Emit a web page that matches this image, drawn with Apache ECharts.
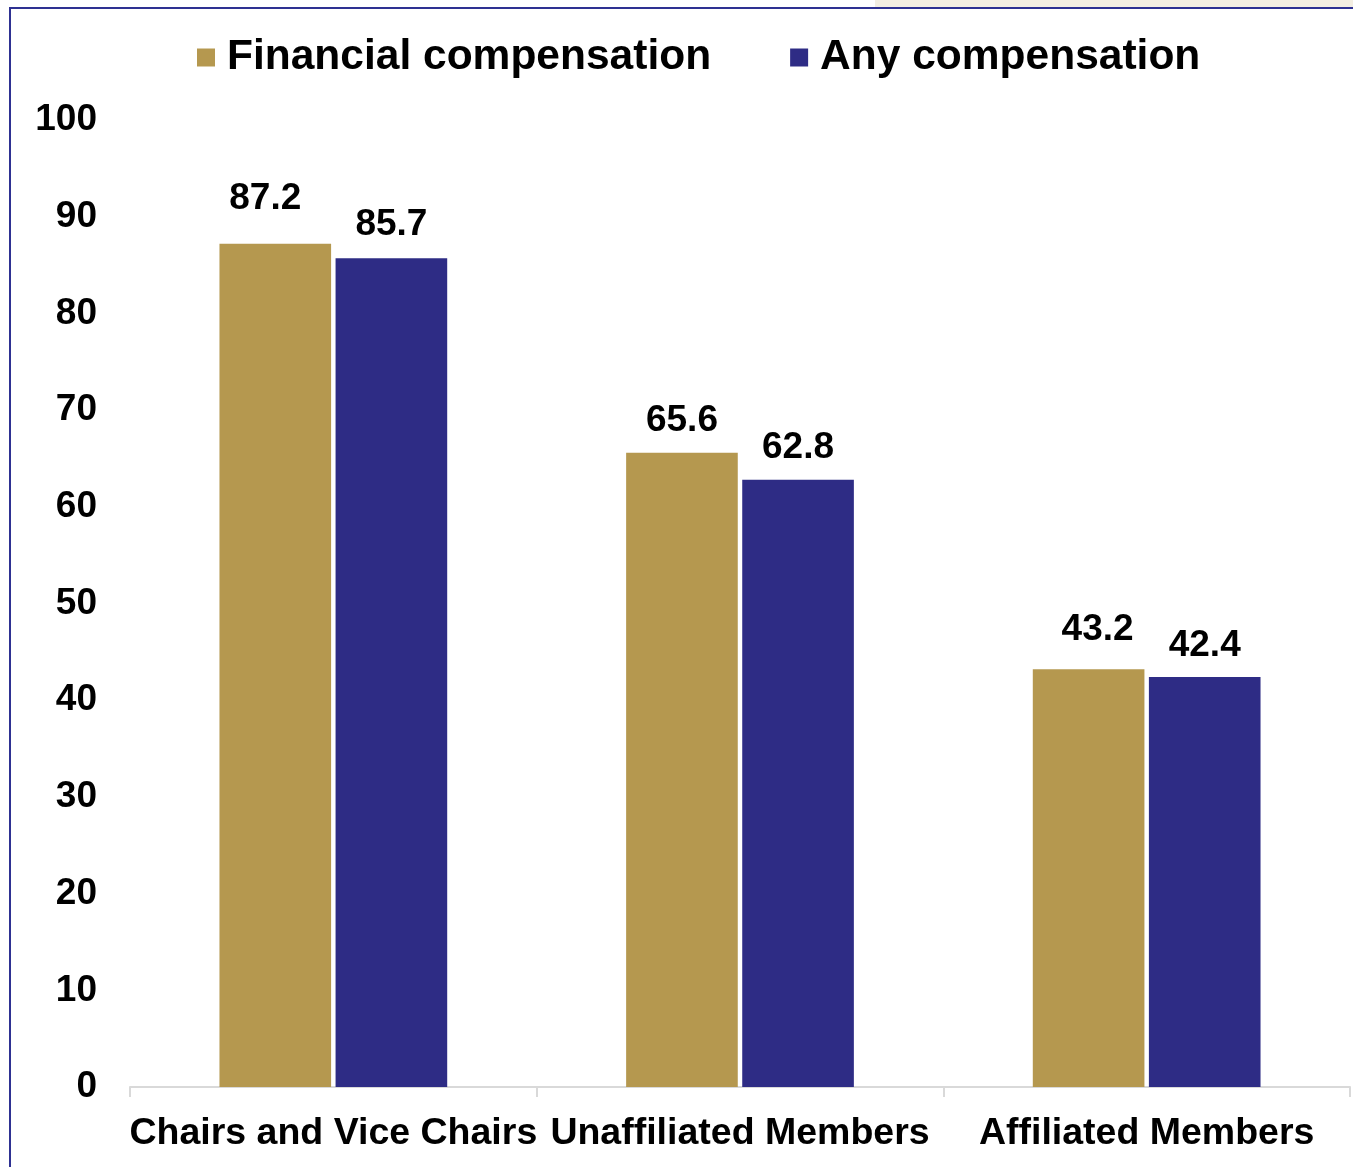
<!DOCTYPE html>
<html>
<head>
<meta charset="utf-8">
<script src="https://cdn.jsdelivr.net/npm/echarts@6/dist/echarts.min.js"></script>
<style>
  html, body { margin: 0; padding: 0; background: #fff; }
  #chart { width: 1353px; height: 1167px; }
</style>
</head>
<body>
<div id="chart"></div>
<script>
// groups on the x axis
const categories = ['Chairs and Vice Chairs', 'Unaffiliated Members', 'Affiliated Members']
const financial = [87.2, 65.6, 43.2]
const anyComp = [85.7, 62.8, 42.4]
const yTicks = [0, 10, 20, 30, 40, 50, 60, 70, 80, 90, 100]

// small nudges of the value labels, as placed in the original
const financialLabelShift = [[-10, -13], [0, 0], [9, -8]]
const anyLabelShift = [[0, -2], [0, 0], [0, 0]]

const gold = '#B5984F'
const navy = '#2E2C85'
const font = 'Liberation Sans, Arial, sans-serif'

function withLabels(values, shifts) {
  return values.map((v, i) => ({ value: v, label: { offset: shifts[i] } }))
}

const labelStyle = { show: true, position: 'top', distance: 13, fontFamily: font, fontWeight: 'bold', fontSize: 37, color: '#000' }

const myChart = echarts.init(document.getElementById('chart'))
const option = {
  animation: false,
  backgroundColor: '#fff',
  graphic: [
    {
      type: 'rect',
      z: -1,
      shape: { x: 875, y: 0, width: 478, height: 8 },
      style: { fill: '#F3EEE2' }
    },
    {
      type: 'rect',
      shape: { x: 10, y: 8, width: 1360, height: 1180 },
      style: { fill: 'none', stroke: '#2E3192', lineWidth: 2 }
    }
  ],
  legend: {
    top: 31,
    left: 192,
    itemWidth: 18,
    itemHeight: 18,
    itemGap: 79,
    icon: 'rect',
    textStyle: { fontFamily: font, fontWeight: 'bold', fontSize: 42.5, color: '#000', padding: [0, 0, 0, 7] },
    data: ['Financial compensation', 'Any compensation']
  },
  grid: { left: 130, right: 3, top: 120, bottom: 80 },
  xAxis: {
    type: 'category',
    data: categories,
    axisLine: { lineStyle: { color: '#D9D9D9', width: 2 } },
    axisTick: { show: true, length: 10, lineStyle: { color: '#D9D9D9', width: 2 } },
    axisLabel: { fontFamily: font, fontWeight: 'bold', fontSize: 37.5, color: '#000', margin: 28, interval: 0 }
  },
  yAxis: {
    type: 'value',
    min: yTicks[0],
    max: yTicks[yTicks.length - 1],
    interval: 10,
    splitLine: { show: false },
    axisLine: { show: false },
    axisTick: { show: false },
    axisLabel: { fontFamily: font, fontWeight: 'bold', fontSize: 37, color: '#000', margin: 33 }
  },
  series: [
    {
      name: 'Financial compensation',
      type: 'bar',
      data: withLabels(financial, financialLabelShift),
      barGap: '4%',
      barCategoryGap: '44%',
      itemStyle: { color: gold },
      label: labelStyle
    },
    {
      name: 'Any compensation',
      type: 'bar',
      data: withLabels(anyComp, anyLabelShift),
      barGap: '4%',
      barCategoryGap: '44%',
      itemStyle: { color: navy },
      label: labelStyle
    }
  ]
}
myChart.setOption(option)
</script>
</body>
</html>
